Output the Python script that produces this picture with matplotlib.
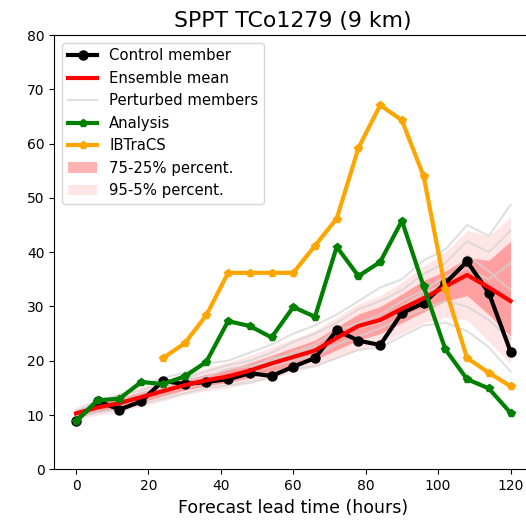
import numpy as np
import matplotlib.pyplot as plt
from matplotlib.patches import Patch
from matplotlib.lines import Line2D

# Lead times (hours)
lead = np.arange(0, 121, 6)

# Maximum wind speed series
control = [8.9, 12.6, 11.0, 12.5, 16.3, 15.7, 16.1, 16.6, 17.7, 17.2, 18.9, 20.5,
           25.6, 23.7, 22.9, 28.8, 30.6, 34.3, 38.3, 32.5, 21.7]
ens_mean = [10.3, 11.4, 12.2, 13.3, 14.4, 15.5, 16.4, 17.1, 18.2, 19.5, 20.7, 21.9,
            24.2, 26.4, 27.5, 29.6, 31.5, 33.7, 35.8, 33.5, 31.0]
analysis = [8.9, 12.7, 13.0, 16.1, 15.7, 17.1, 19.8, 27.3, 26.4, 24.3, 29.9, 28.1,
            41.0, 35.6, 38.2, 45.8, 33.7, 22.1, 16.6, 14.9, 10.4]
ibtracs_lead = np.arange(24, 121, 6)
ibtracs = [20.5, 23.2, 28.4, 36.2, 36.2, 36.2, 36.2, 41.2, 46.2, 59.2, 67.1, 64.3,
           54.0, 33.3, 20.5, 17.8, 15.3]

# Ensemble percentiles
p5 = [9.2, 10.0, 10.6, 11.6, 12.6, 13.7, 14.5, 15.0, 15.8, 16.8, 17.9, 18.9,
      20.5, 22.0, 23.2, 25.0, 27.0, 28.0, 27.5, 23.5, 19.5]
p25 = [9.7, 10.6, 11.3, 12.4, 13.5, 14.6, 15.4, 16.0, 16.9, 18.0, 19.2, 20.2,
       22.0, 23.8, 25.0, 27.0, 29.0, 31.0, 32.0, 28.5, 24.5]
p75 = [10.9, 12.2, 13.1, 14.3, 15.4, 16.5, 17.5, 18.4, 19.6, 21.0, 22.4, 23.8,
       26.2, 28.6, 30.0, 32.3, 34.8, 36.5, 39.0, 38.5, 42.0]
p95 = [11.5, 13.0, 14.0, 15.2, 16.5, 17.6, 18.6, 19.7, 21.0, 22.5, 24.0, 25.6,
       28.0, 30.5, 32.0, 34.5, 37.5, 40.0, 44.0, 43.0, 46.5]

# A few perturbed members
members = [
    [10.5, 12.8, 13.5, 15.5, 16.8, 17.8, 19.5, 20.0, 21.5, 23.0, 25.0, 26.5,
     28.5, 31.0, 33.5, 35.0, 38.5, 40.5, 45.0, 43.0, 48.7],
    [10.0, 12.0, 13.8, 14.5, 16.0, 16.8, 18.0, 19.2, 20.0, 21.5, 23.5, 25.0,
     27.0, 29.5, 31.0, 33.0, 36.0, 38.0, 42.0, 40.0, 44.0],
    [9.5, 10.5, 11.0, 12.0, 13.0, 14.0, 15.0, 15.5, 16.0, 17.0, 18.5, 19.0,
     20.5, 22.0, 22.5, 24.5, 26.5, 27.0, 25.5, 22.5, 18.0],
    [10.2, 11.0, 12.5, 13.0, 14.5, 15.0, 16.0, 16.5, 18.0, 19.0, 20.0, 21.0,
     23.0, 24.5, 26.0, 28.0, 29.5, 31.0, 30.0, 27.5, 24.0],
    [10.8, 11.8, 12.0, 14.0, 15.0, 16.5, 17.0, 18.5, 19.0, 20.0, 21.5, 23.0,
     25.5, 27.0, 28.5, 31.0, 33.0, 35.5, 37.0, 35.0, 38.0],
    [9.8, 11.2, 12.8, 13.5, 14.0, 15.8, 16.5, 17.0, 18.5, 20.5, 21.0, 22.5,
     24.0, 26.0, 27.0, 30.0, 32.5, 34.0, 39.5, 36.5, 33.0],
]

fig = plt.figure(figsize=(5.26, 5.2), dpi=100)
ax = fig.add_axes([0.1032, 0.0975, 0.9087, 0.835])

for m in members:
    ax.plot(lead, m, color='lightgray', lw=1.5, alpha=0.7)
ax.fill_between(lead, p5, p95, color='red', alpha=0.1, lw=0)
ax.fill_between(lead, p25, p75, color='red', alpha=0.3, lw=0)

ax.plot(lead, control, color='black', lw=3, marker='o', ms=6.5)
ax.plot(lead, ens_mean, color='red', lw=3)
ax.plot(lead, analysis, color='green', lw=3, marker='p', ms=5.5)
ax.plot(ibtracs_lead, ibtracs, color='orange', lw=3, marker='p', ms=5.5)

ax.set_xlim(-6, 126)
ax.set_ylim(0, 80)
ax.set_xticks(range(0, 121, 20))
ax.set_xlabel('Forecast lead time (hours)', fontsize=12.5)
ax.set_title('SPPT TCo1279 (9 km)', fontsize=15.8)

handles = [
    Line2D([], [], color='black', lw=3, marker='o', ms=6.5),
    Line2D([], [], color='red', lw=3),
    Line2D([], [], color='lightgray', lw=1.5, alpha=0.7),
    Line2D([], [], color='green', lw=3, marker='p', ms=5.5),
    Line2D([], [], color='orange', lw=3, marker='p', ms=5.5),
    Patch(facecolor='red', alpha=0.3),
    Patch(facecolor='red', alpha=0.1),
]
labels = ['Control member', 'Ensemble mean', 'Perturbed members', 'Analysis',
          'IBTraCS', '75-25% percent.', '95-5% percent.']
ax.legend(handles, labels, loc='upper left', fontsize=10.7)

fig.savefig('out.png', dpi=100)
